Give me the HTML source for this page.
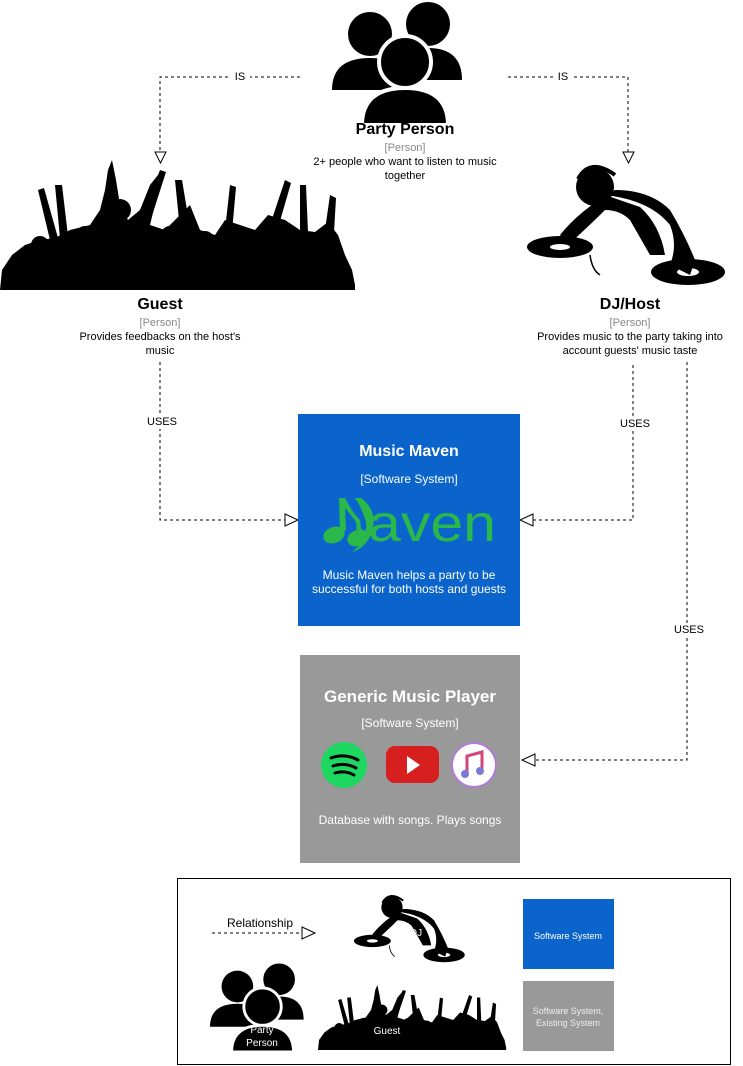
<!DOCTYPE html>
<html><head><meta charset="utf-8"><style>
body{margin:0;width:743px;height:1066px;background:#fff;position:relative;overflow:hidden;font-family:"Liberation Sans",Arial,sans-serif}
.t{position:absolute;text-align:center;white-space:nowrap;transform:translateX(-50%);line-height:14px}
.b{font-weight:bold;font-size:16px;color:#000}
.g{font-size:11px;color:#888}
.d{font-size:11px;color:#000}
.w{color:#fff}
</style></head><body>
<svg width="743" height="1066" style="position:absolute;left:0;top:0">
<defs>
<g id="pp">
<circle cx="38" cy="34" r="22"/><path d="M0 90 Q0 58 38 58 Q76 58 76 90 Z"/>
<circle cx="96" cy="24" r="22"/><path d="M58 80 Q58 48 96 48 Q130 48 130 80 Z"/>
<circle cx="73" cy="62" r="26" stroke="#fff" stroke-width="4"/><path d="M30 125 Q30 88 73 88 Q116 88 116 125 Z" stroke="#fff" stroke-width="4"/>
</g>
<g id="crowd">
<path d="M0 130 L2 110 L12 95 L25 85 L40 80 L55 78 L70 70 L90 65 L100 50 L105 30 L108 10 L112 0 L116 20 L120 45 L128 60 L140 50 L150 25 L158 15 L156 40 L150 65 L165 70 L180 55 L190 45 L200 70 L215 75 L225 60 L240 65 L255 70 L268 55 L285 60 L300 70 L315 72 L328 62 L338 75 L345 95 L352 110 L355 125 L355 130 Z"/>
<circle cx="85" cy="75" r="9"/><circle cx="120" cy="50" r="11"/><circle cx="170" cy="75" r="9"/><circle cx="205" cy="80" r="9"/><circle cx="250" cy="78" r="9"/><circle cx="290" cy="75" r="9"/><circle cx="40" cy="85" r="9"/><circle cx="320" cy="80" r="9"/>
<path d="M50 80 L38 30 L44 28 L58 78Z M60 78 L55 25 L62 25 L68 76Z M180 70 L175 20 L182 20 L190 68Z M225 70 L230 25 L236 27 L232 72Z M270 65 L285 20 L291 23 L278 68Z M300 70 L300 25 L306 25 L308 72Z M140 60 L160 10 L166 12 L150 62Z M325 70 L330 35 L336 38 L334 72Z"/>
</g>
<g id="dj">
<ellipse cx="40" cy="82" rx="33" ry="11"/><ellipse cx="168" cy="107" rx="37" ry="13"/>
<ellipse cx="40" cy="82" rx="10" ry="3" fill="#fff"/><ellipse cx="168" cy="107" rx="11" ry="4" fill="#fff"/>
<circle cx="75" cy="22" r="19"/>
<path d="M58 14 Q70 -8 95 10" stroke="#000" stroke-width="4" fill="none"/>
<path d="M85 30 Q130 35 150 60 Q158 80 150 100 L170 110 L175 95 Q165 70 150 45 Q130 25 95 25 Q60 45 40 70 L48 80 Q70 60 85 45 Q100 45 110 55 L130 90 L145 90 Q140 60 120 42Z"/>
<path d="M70 90 Q72 105 80 110" stroke="#000" stroke-width="1.5" fill="none"/>
</g>
</defs>

<g stroke="#000" stroke-dasharray="3,3" fill="none" stroke-width="1">
<path d="M300 77 H160 V152"/><path d="M508 77 H628 V152"/>
<path d="M160 362 V520 H285"/><path d="M633 365 V520 H533"/><path d="M687 362 V760 H535"/>
<path d="M212 933 H302"/>
</g>
<g fill="#fff" stroke="#000">
<path d="M155 152 L166 152 L160.5 163Z"/><path d="M623 152 L634 152 L628.5 163Z"/>
<path d="M285 514 L298 520 L285 526Z"/><path d="M533 514 L520 520 L533 526Z"/><path d="M535 754 L522 760 L535 766Z"/>
<path d="M302 927 L315 933 L302 939Z"/>
</g>
<rect x="230" y="70" width="20" height="14" fill="#fff"/><rect x="553" y="70" width="20" height="14" fill="#fff"/>

<use href="#pp" transform="translate(332,0)"/>
<use href="#crowd" transform="translate(0,160)"/>
<use href="#dj" transform="translate(520,165)"/>

<rect x="298" y="414" width="222" height="212" fill="#0a64cc"/>
<g fill="#2bb84a">
<ellipse cx="334" cy="535" rx="11" ry="8" transform="rotate(-20 334 535)"/>
<ellipse cx="358" cy="538" rx="11" ry="8" transform="rotate(-20 358 538)"/>
<path d="M340 533 L339 498 L345 498 Q352 512 360 520 L362 536 L357 536 L356 522 Q350 514 345 508 L346 530Z"/>
<path d="M355 498 L361 498 Q378 510 372 532 Q366 548 352 552 Q368 540 366 522 Q362 508 355 498Z"/>
</g>
<text x="368" y="541" font-size="52" fill="#2bb84a" font-family="Liberation Sans,sans-serif" textLength="128" lengthAdjust="spacingAndGlyphs">aven</text>

<rect x="300" y="655" width="220" height="208" fill="#999"/>
<circle cx="344" cy="765" r="23" fill="#1ed760"/>
<path d="M331 758 Q345 753 358 760 M333 766 Q345 762 356 768 M335 773 Q345 770 354 775" stroke="#000" stroke-width="3" fill="none" stroke-linecap="round"/>
<rect x="386" y="746" width="53" height="37" rx="9" fill="#d81f1f"/><path d="M407 756 L420 765 L407 774Z" fill="#fff"/>
<circle cx="474" cy="765" r="22" fill="#fff" stroke="#b07ad6" stroke-width="2"/>
<path d="M467 773 V756 L482 752 V770" stroke="#d4467a" stroke-width="3" fill="none"/><circle cx="465" cy="774" r="4" fill="#7a7ad6"/><circle cx="480" cy="771" r="4" fill="#7a7ad6"/>

<rect x="177.5" y="878.5" width="553" height="186" fill="none" stroke="#000"/>
<use href="#dj" transform="translate(350,895) scale(0.56)"/>
<use href="#pp" transform="translate(210,962) scale(0.72)"/>
<use href="#crowd" transform="translate(318,985) scale(0.53,0.5)"/>
<rect x="523" y="899" width="91" height="70" fill="#0a64cc"/>
<rect x="523" y="981" width="91" height="70" fill="#999"/>
</svg>

<div class="t d" style="left:240px;top:70px">IS</div>
<div class="t d" style="left:563px;top:70px">IS</div>
<div class="t b" style="left:405px;top:123px">Party Person</div>
<div class="t g" style="left:405px;top:141px">[Person]</div>
<div class="t d" style="left:405px;top:155px">2+ people who want to listen to music<br>together</div>

<div class="t b" style="left:160px;top:298px">Guest</div>
<div class="t g" style="left:160px;top:316px">[Person]</div>
<div class="t d" style="left:160px;top:330px">Provides feedbacks on the host's<br>music</div>
<div class="t b" style="left:630px;top:298px">DJ/Host</div>
<div class="t g" style="left:630px;top:316px">[Person]</div>
<div class="t d" style="left:630px;top:330px">Provides music to the party taking into<br>account guests' music taste</div>

<div class="t d" style="left:162px;top:415px;background:#fff">USES</div>
<div class="t d" style="left:635px;top:417px;background:#fff">USES</div>
<div class="t d" style="left:689px;top:623px;background:#fff">USES</div>

<div class="t b w" style="left:409px;top:445px">Music Maven</div>
<div class="t d w" style="left:409px;top:472px;font-size:12px">[Software System]</div>
<div class="t d w" style="left:409px;top:568px;font-size:12px">Music Maven helps a party to be<br>successful for both hosts and guests</div>

<div class="t b w" style="left:410px;top:690px;font-size:17px">Generic Music Player</div>
<div class="t d w" style="left:410px;top:716px;font-size:12px">[Software System]</div>
<div class="t d w" style="left:410px;top:813px;font-size:12px">Database with songs. Plays songs</div>

<div class="t d" style="left:260px;top:916px;font-size:12px">Relationship</div>
<div class="t d w" style="left:416px;top:927px;font-size:10px">DJ</div>
<div class="t d w" style="left:387px;top:1025px;font-size:10px">Guest</div>
<div class="t d w" style="left:262px;top:1024px;font-size:10px;line-height:13px">Party<br>Person</div>
<div class="t d w" style="left:568px;top:929px;font-size:9px">Software System</div>
<div class="t d w" style="left:568px;top:1005px;font-size:9px;line-height:12px;color:#eee">Software System,<br>Existing System</div>
</body></html>
